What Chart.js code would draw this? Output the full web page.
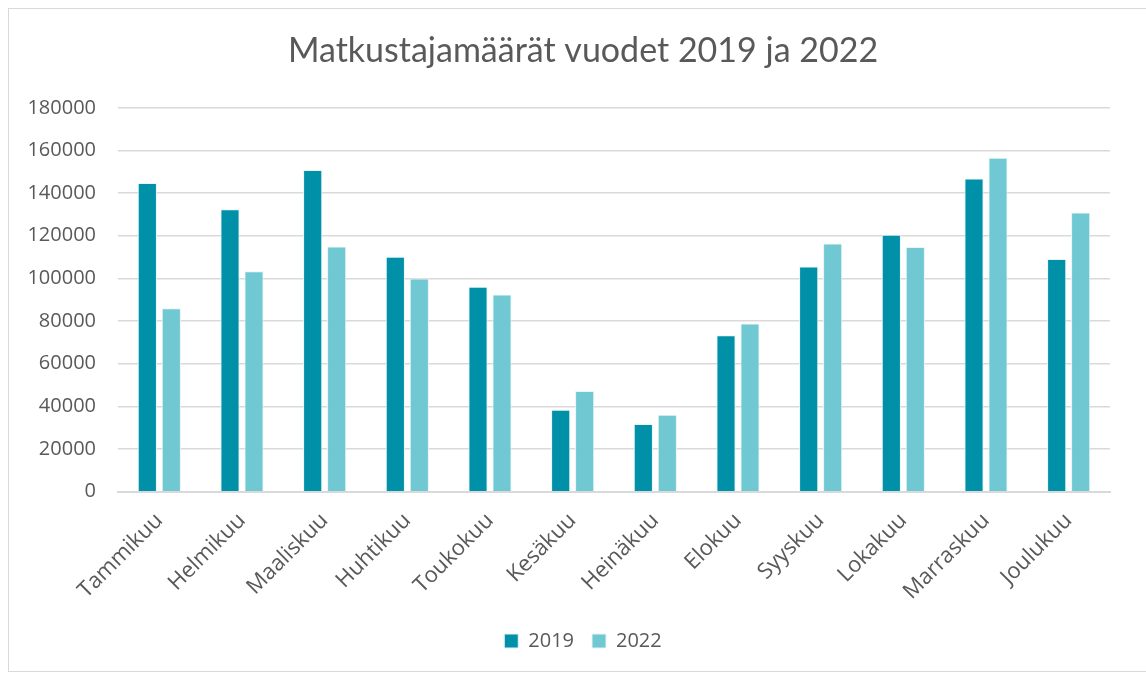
<!DOCTYPE html>
<html>
<head>
<meta charset="utf-8">
<script src="https://cdn.jsdelivr.net/npm/chart.js@4"></script>
<style>
  html, body { margin: 0; padding: 0; background: #fff; overflow: hidden; }
  #wrap {
    position: absolute; left: 8px; top: 8px;
    width: 1150px; height: 664px;
    border: 1px solid #d9d9d9; box-sizing: border-box;
  }
</style>
</head>
<body>
<div id="wrap"><canvas id="matkustajat"></canvas></div>
<script>
const kuukaudet = ['Tammikuu', 'Helmikuu', 'Maaliskuu', 'Huhtikuu', 'Toukokuu', 'Kesäkuu',
  'Heinäkuu', 'Elokuu', 'Syyskuu', 'Lokakuu', 'Marraskuu', 'Joulukuu'];
const vuosi2019 = [144700, 132400, 150800, 110200, 96100, 38400, 31700, 73300, 105600, 120500, 146900, 109100];
const vuosi2022 = [86000, 103300, 115000, 99900, 92400, 47200, 36100, 78800, 116400, 114700, 156600, 130900];

const tekstinVari = '#595959';
const otsikkoFontti = 'Lato, sans-serif';
const fontti = '"Open Sans", sans-serif';

new Chart(document.getElementById('matkustajat'), {
  type: 'bar',
  data: {
    labels: kuukaudet,
    datasets: [{
      label: '2019',
      data: vuosi2019,
      backgroundColor: '#0091a9',
      borderColor: '#e6f5f7',
      borderWidth: 1
    }, {
      label: '2022',
      data: vuosi2022,
      backgroundColor: '#70c8d2',
      borderColor: '#e6f5f7',
      borderWidth: 1
    }]
  },
  options: {
    responsive: true,
    maintainAspectRatio: false,
    animation: false,
    layout: { padding: { left: 15, right: 15, top: 14, bottom: 10 } },
    datasets: { bar: { categoryPercentage: 0.58, barPercentage: 0.8 } },
    plugins: {
      title: {
        display: true,
        text: 'Matkustajamäärät vuodet 2019 ja 2022',
        color: tekstinVari,
        font: { family: otsikkoFontti, size: 34, weight: 'normal' },
        padding: { top: 8, bottom: 36 }
      },
      legend: {
        position: 'bottom',
        labels: {
          color: tekstinVari,
          font: { family: fontti, size: 20 },
          boxWidth: 14, boxHeight: 14,
          padding: 18
        }
      },
      tooltip: { enabled: false }
    },
    scales: {
      x: {
        grid: { display: false },
        border: { color: '#d9d9d9', width: 2 },
        ticks: {
          color: tekstinVari,
          font: { family: fontti, size: 22 },
          maxRotation: 45, minRotation: 45,
          padding: 8
        },
        // kiertyneet nimet saavat ulottua y-akselin puolelle
        afterFit: s => { s.paddingLeft = 0; s.paddingRight = 47; }
      },
      y: {
        min: 0, max: 180000,
        border: { display: false },
        grid: { color: '#d9d9d9', lineWidth: 1.5, drawTicks: false },
        ticks: {
          stepSize: 20000,
          padding: 22,
          color: tekstinVari,
          font: { family: fontti, size: 20 },
          callback: v => String(v)
        },
        afterFit: s => { s.width = 94; }
      }
    }
  }
});
</script>
</body>
</html>
